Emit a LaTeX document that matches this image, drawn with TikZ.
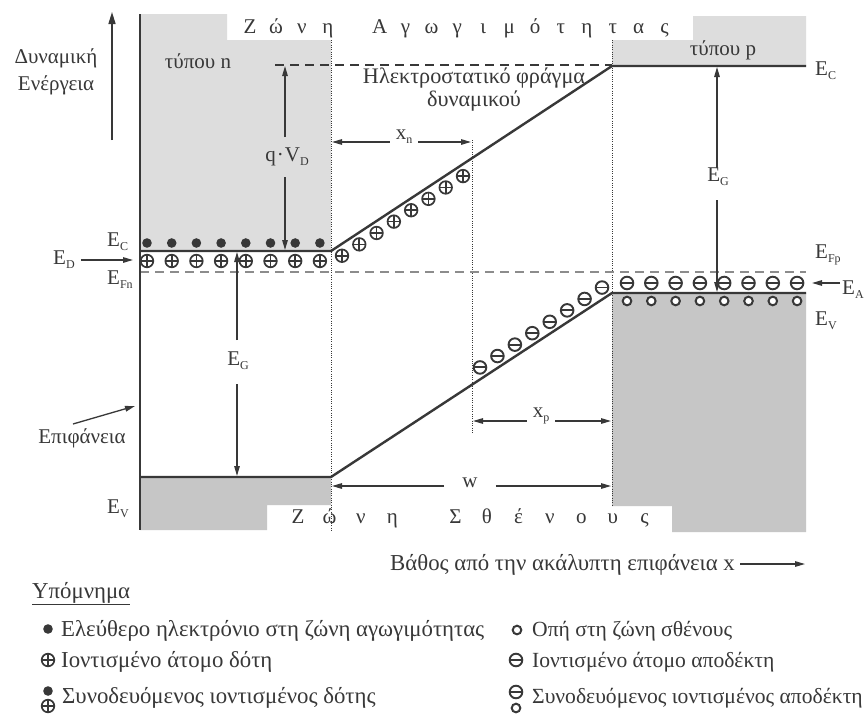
\documentclass[tikz,border=0pt]{standalone}
\usepackage{fontspec}
\setmainfont{Liberation Serif}
\usetikzlibrary{arrows.meta}
\definecolor{ink}{HTML}{383838}
\definecolor{cbgray}{HTML}{DDDDDD}
\definecolor{vbgray}{HTML}{C6C6C6}
\definecolor{fermi}{HTML}{8C8C8C}
\newcommand{\sbs}[1]{\raisebox{-4pt}{\fontsize{12}{12}\selectfont #1}}
\newcommand{\spa}[1]{\makebox[25.9pt]{#1}}
\newcommand{\spb}[1]{\makebox[31.5pt]{#1}}
\tikzset{
  band/.style={draw=ink, line width=2.4pt, line join=round},
  guide/.style={draw=ink, line width=1pt, dash pattern=on 1pt off 1.3pt},
  arr/.style={draw=ink, line width=1.3pt, -{Triangle[length=10pt,width=5.5pt]}},
  lbl/.style={font=\fontsize{21}{27}\selectfont, text=ink, inner sep=0pt},
  big/.style={lbl, font=\fontsize{22.8}{27}\selectfont},
  legr/.style={lbl, font=\fontsize{21.6}{27}\selectfont},
  donor/.pic={\draw[ink,line width=1.7pt,fill=white] (0pt,0pt) circle[radius=6.3pt];
              \draw[ink,line width=1.7pt] (-6.3pt,0pt)--(6.3pt,0pt) (0pt,-6.3pt)--(0pt,6.3pt);},
  acceptor/.pic={\draw[ink,line width=1.9pt,fill=white] (0pt,0pt) circle[radius=6.3pt];
              \draw[ink,line width=1.9pt] (-6.3pt,0pt)--(6.3pt,0pt);},
  electron/.pic={\fill[ink] (0pt,0pt) circle[radius=4.8pt];},
  hole/.pic={\draw[ink,line width=2pt,fill=white] (0pt,0pt) circle[radius=4.3pt];}
}
\begin{document}
\begin{tikzpicture}[x=1pt,y=-1pt]
\useasboundingbox (0,0) rectangle (867,715);
\fill[white] (0,0) rectangle (867,715);
% band regions
\fill[cbgray] (140,14) -- (227,14) -- (227,40) -- (331,40) -- (331,251) -- (140,251) -- cycle;
\fill[cbgray] (612,40) -- (693,40) -- (693,16) -- (806,16) -- (806,66) -- (612,66) -- cycle;
\fill[vbgray] (140,477) -- (331,477) -- (331,505) -- (267,505) -- (267,530) -- (140,530) -- cycle;
\fill[vbgray] (612,293) -- (806,293) -- (806,532) -- (672,532) -- (672,506) -- (612,506) -- cycle;

% key coordinates
\coordinate (S0) at (140,14);   \coordinate (S1) at (140,530);
\coordinate (C0) at (140,251);  \coordinate (Cn) at (331,251);
\coordinate (Cp) at (612,66);   \coordinate (C1) at (806,66);
\coordinate (V0) at (140,477);  \coordinate (Vn) at (331,477);
\coordinate (Vp) at (612,293);  \coordinate (V1) at (806,293);

% guide lines
\draw[guide] (331,40) -- (331,530);
\draw[guide] (612,40) -- (612,506);
\draw[guide] (472,140) -- (472,433);
\draw[draw=fermi, line width=1.6pt, dash pattern=on 9pt off 6pt] (140,272) -- (806,272);
\draw[draw=ink, line width=1.4pt, dash pattern=on 9pt off 6pt] (275,65) -- (612,65);

% bands
\draw[band] (S0) -- (S1);
\draw[band] (C0) -- (Cn) -- (Cp) -- (C1);
\draw[band] (V0) -- (Vn) -- (Vp) -- (V1);

% carriers and ions
\foreach \i in {0,...,7} {
  \pgfmathsetmacro\xx{147+\i*24.7}
  \pic at (\xx,243) {electron};
  \pic at (\xx,261) {donor};
  \pgfmathsetmacro\xs{342+\i*17.286}
  \pgfmathsetmacro\ys{251-0.6584*(\xs-331)+12}
  \pic at (\xs,\ys) {donor};
  \pgfmathsetmacro\xa{480+\i*17.43}
  \pgfmathsetmacro\ya{477-0.6548*(\xa-331)-12}
  \pic at (\xa,\ya) {acceptor};
  \pgfmathsetmacro\xp{627+\i*24.3}
  \pic at (\xp,283) {acceptor};
  \pic at (\xp,301) {hole};
}

% titles of bands
\node[lbl, anchor=base west] (tcb) at (237,33) {\spa{Ζ}\spa{ώ}\spa{ν}\spa{η}\spa{}\spa{Α}\spa{γ}\spa{ω}\spa{γ}\spa{ι}\spa{μ}\spa{ό}\spa{τ}\spa{η}\spa{τ}\spa{α}\spa{ς}};
\node[lbl, anchor=base west] (tvb) at (282,523) {\spb{Ζ}\spb{ώ}\spb{ν}\spb{η}\spb{}\spb{Σ}\spb{θ}\spb{έ}\spb{ν}\spb{ο}\spb{υ}\spb{ς}};
\node[lbl, anchor=base] (ntype) at (198,68) {τύπου n};
\node[lbl, anchor=base] (ptype) at (723,55) {τύπου p};
\node[lbl, font=\fontsize{22.2}{27}\selectfont, align=center, anchor=north] (barrier) at (474,68) {Ηλεκτροστατικό φράγμα\\[-4pt]δυναμικού};

% energy axis
\node[lbl, align=center, anchor=north] (energy) at (56,48) {Δυναμική\\Ενέργεια};
\coordinate (ax0) at (112,140); \coordinate (ax1) at (112,12);
\draw[draw=ink, line width=1.5pt, -{Triangle[length=12pt,width=7pt]}] (ax0) -- (ax1);

% level labels
\node[lbl, anchor=base west] (ECl) at (107,246) {E\sbs{C}};
\node[lbl, anchor=base west] (EDl) at (53,264) {E\sbs{D}};
\node[lbl, anchor=base west] (EFn) at (107,284) {E\sbs{Fn}};
\node[lbl, anchor=base west] (EVl) at (107,513) {E\sbs{V}};
\node[lbl, anchor=base west] (ECr) at (815,75) {E\sbs{C}};
\node[lbl, anchor=base west] (EFp) at (815,258) {E\sbs{Fp}};
\node[lbl, anchor=base west] (EAr) at (842,294) {E\sbs{A}};
\node[lbl, anchor=base west] (EVr) at (815,325) {E\sbs{V}};
\coordinate (edt) at (133,260);
\draw[arr] (EDl.east |- edt) ++(6,0) -- (edt);
\coordinate (eat) at (812,283);
\draw[arr] (840,283) -- (eat);

% q V_D
\node[lbl] (qvd) at (287,157) {q\kern1pt·\kern1pt V\sbs{D}};
\coordinate (qt) at (285,66); \coordinate (qb) at (285,250);
\draw[arr] (285,137) -- (qt);
\draw[arr] (285,177) -- (qb);

% E_G left
\node[lbl] (egl) at (238,361) {E\sbs{G}};
\coordinate (egla) at (237,252); \coordinate (eglb) at (237,476);
\draw[arr] (237,340) -- (egla);
\draw[arr] (237,384) -- (eglb);

% E_G right
\node[lbl] (egr) at (718,177) {E\sbs{G}};
\coordinate (egra) at (717,67); \coordinate (egrb) at (717,292);
\draw[arr] (717,168) -- (egra);
\draw[arr] (717,200) -- (egrb);

% widths
\node[lbl] (xn) at (404,137) {x\sbs{n}};
\coordinate (xna) at (332,142); \coordinate (xnb) at (471,142);
\draw[arr] (xn.west |- xna) ++(-6,0) -- (xna);
\draw[arr] (xn.east |- xnb) ++(6,0) -- (xnb);
\node[lbl] (xp) at (541,416) {x\sbs{p}};
\coordinate (xpa) at (473,421); \coordinate (xpb) at (611,421);
\draw[arr] (xp.west |- xpa) ++(-6,0) -- (xpa);
\draw[arr] (xp.east |- xpb) ++(6,0) -- (xpb);
\node[lbl] (wl) at (470,483) {w};
\coordinate (wa) at (332,486); \coordinate (wb) at (611,486);
\draw[arr] (wl.west |- wa) ++(-18,0) -- (wa);
\draw[arr] (wl.east |- wb) ++(18,0) -- (wb);

% surface
\node[lbl] (surf) at (82,438) {Επιφάνεια};
\coordinate (surft) at (135,406);
\draw[arr] (73,424) -- (surft);

% depth axis
\node[big, anchor=base west] (depth) at (390,570) {Βάθος από την ακάλυπτη επιφάνεια x};
\coordinate (dpt) at (805,564);
\draw[arr] (depth.east |- dpt) ++(5,0) -- (dpt);

% legend
\node[big, anchor=base west] (leg) at (32,598) {\underline{Υπόμνημα}};
\pic at (48,629) {electron};
\node[big, anchor=base west] (l1) at (61,636) {Ελεύθερο ηλεκτρόνιο στη ζώνη αγωγιμότητας};
\pic at (48,660) {donor};
\node[big, anchor=base west] (l2) at (61,667) {Ιοντισμένο άτομο δότη};
\pic at (48,691) {electron};
\pic at (48,706) {donor};
\node[big, anchor=base west] (l3) at (62,703) {Συνοδευόμενος ιοντισμένος δότης};
\pic at (517,630) {hole};
\node[legr, anchor=base west] (r1) at (532,636) {Οπή στη ζώνη σθένους};
\pic at (516,660) {acceptor};
\node[legr, anchor=base west] (r2) at (532,667) {Ιοντισμένο άτομο αποδέκτη};
\pic at (516,692) {acceptor};
\pic at (516,708) {hole};
\node[legr, anchor=base west] (r3) at (532,703) {Συνοδευόμενος ιοντισμένος αποδέκτη};
\end{tikzpicture}
\end{document}
